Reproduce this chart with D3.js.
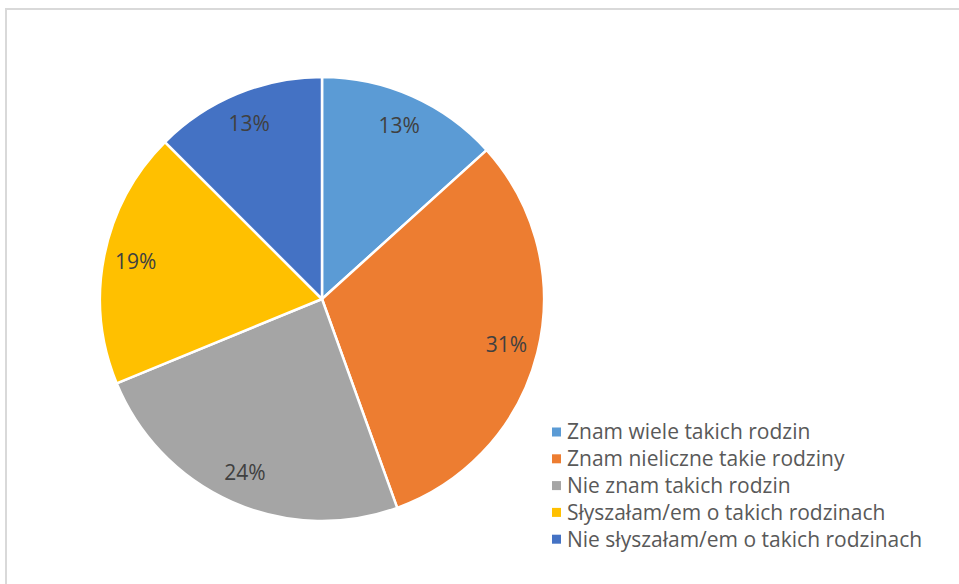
<!DOCTYPE html>
<html><head><meta charset="utf-8">
<script src="https://cdn.jsdelivr.net/npm/d3@7/dist/d3.min.js"></script>
<style>html,body{margin:0;padding:0;background:#fff;}svg{display:block;}</style>
</head><body>
<svg id="chart" width="959" height="584"></svg>
<script>
const categories = ["Znam wiele takich rodzin","Znam nieliczne takie rodziny","Nie znam takich rodzin","Słyszałam/em o takich rodzinach","Nie słyszałam/em o takich rodzinach"];
const values = [13.3, 31.2, 24.3, 18.7, 12.5];
const labels = ["13%","31%","24%","19%","13%"];
const colors = ["#5B9BD5","#ED7D31","#A5A5A5","#FFC000","#4472C4"];

const svg = d3.select("#chart");
svg.append("rect").attr("x",6).attr("y",9).attr("width",1200).attr("height",1200)
  .attr("fill","#fff").attr("stroke","#d9d9d9").attr("stroke-width",2);

const cx = 322, cy = 299, r = 222;
const g = svg.append("g").attr("transform",`translate(${cx},${cy})`);
const pie = d3.pie().sort(null).value(d=>d)(values);
const arc = d3.arc().innerRadius(0).outerRadius(r);
const labelArc = d3.arc().innerRadius(190).outerRadius(190);
g.selectAll("path").data(pie).join("path")
  .attr("d",arc).attr("fill",(d,i)=>colors[i])
  .attr("stroke","#fff").attr("stroke-width",2.5).attr("stroke-linejoin","round");
g.selectAll("text").data(pie).join("text")
  .attr("transform",d=>`translate(${labelArc.centroid(d)})`)
  .attr("text-anchor","middle").attr("dy","0.35em")
  .attr("font-family","'Open Sans', sans-serif").attr("font-size",21)
  .attr("fill","#404040").text((d,i)=>labels[i]);

const lg = svg.append("g").attr("transform","translate(552,432)");
const rows = lg.selectAll("g").data(categories).join("g")
  .attr("transform",(d,i)=>`translate(0,${i*26.8})`);
rows.append("rect").attr("x",0).attr("y",-4.5).attr("width",9).attr("height",9)
  .attr("fill",(d,i)=>colors[i]);
rows.append("text").attr("x",15).attr("dy","0.35em")
  .attr("font-family","'Open Sans', sans-serif").attr("font-size",21)
  .attr("fill","#595959").text(d=>d);
</script>
</body></html>
